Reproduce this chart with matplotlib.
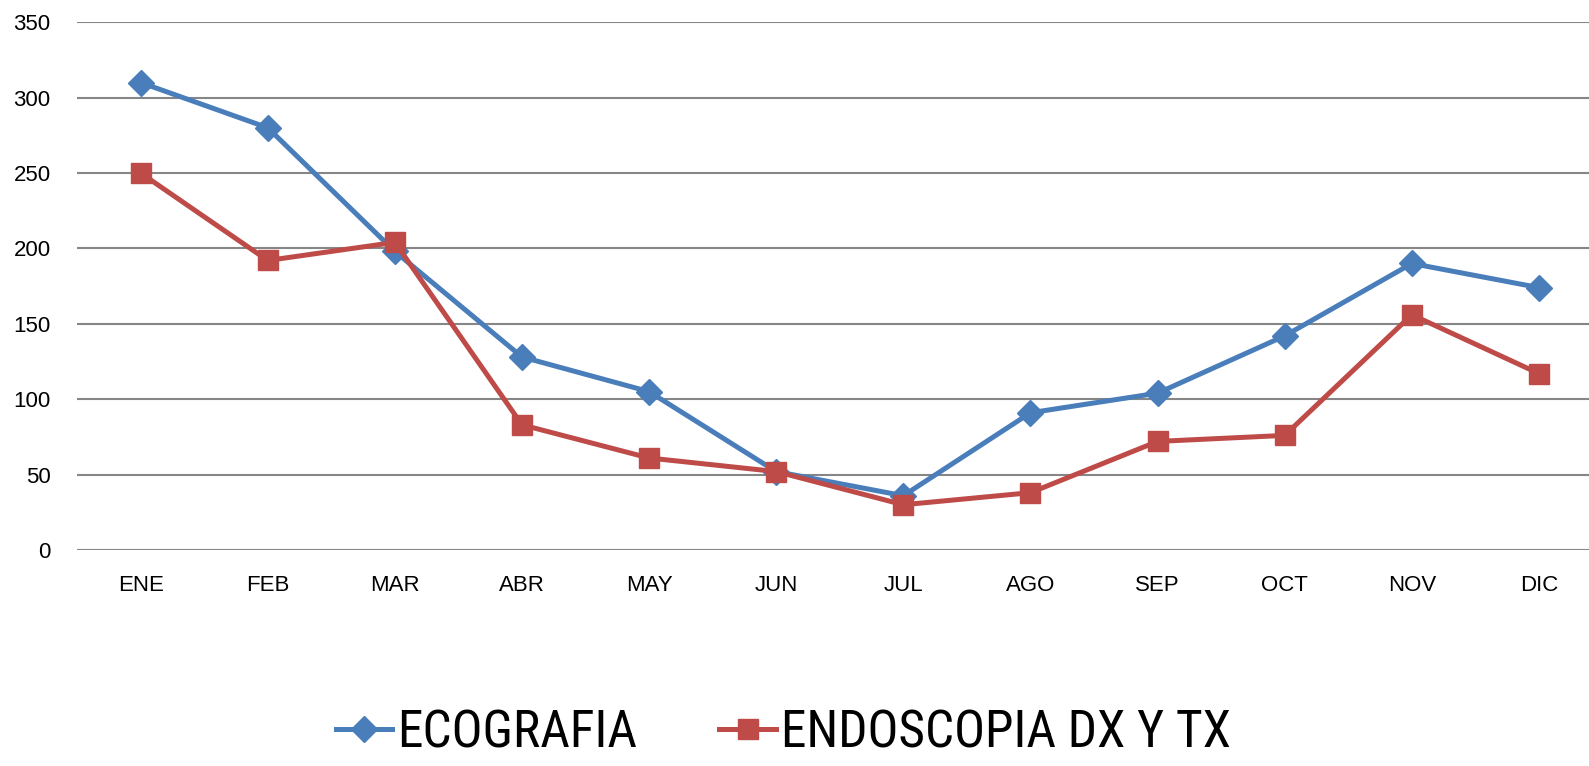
import matplotlib
matplotlib.use("Agg")
import matplotlib.pyplot as plt
from matplotlib.lines import Line2D
from matplotlib import font_manager

months = ["ENE", "FEB", "MAR", "ABR", "MAY", "JUN", "JUL", "AGO", "SEP", "OCT", "NOV", "DIC"]
ecografia = [310, 280, 198, 128, 105, 52, 36, 91, 104, 142, 190, 174]
endoscopia = [250, 192, 204, 83, 61, 52, 30, 38, 72, 76, 156, 117]

blue = "#4a7ebb"
red = "#be4b48"
grid_col = "#868686"

plt.rcParams['font.family'] = ['Liberation Sans', 'DejaVu Sans']

# narrow-ish face for the big legend
names = {f.name for f in font_manager.fontManager.ttflist}
legend_font = [n for n in ['Roboto Condensed', 'Liberation Sans Narrow', 'Roboto'] if n in names] + ['DejaVu Sans']

fig = plt.figure(figsize=(15.89, 7.66), dpi=100)
ax = fig.add_axes([0.0485, 0.282, 0.960, 0.689])

x = list(range(len(months)))
ax.plot(x, ecografia, color=blue, lw=3.6, marker="D", ms=13, zorder=3)
ax.plot(x, endoscopia, color=red, lw=3.6, marker="s", ms=14, zorder=4)

ax.set_xlim(-0.5, 11.5)
ax.set_ylim(0, 350)
ax.set_yticks(range(0, 351, 50))
ax.set_xticks(x)
ax.set_xticklabels(months)
ax.yaxis.grid(True, color=grid_col, lw=1.5)
ax.set_axisbelow(True)
for s in ax.spines.values():
    s.set_visible(False)
ax.tick_params(axis="both", length=0, labelsize=16)
ax.tick_params(axis="x", pad=18)
ax.tick_params(axis="y", pad=19)

handles = [Line2D([], [], color=blue, lw=3.6, marker="D", ms=13),
           Line2D([], [], color=red, lw=3.6, marker="s", ms=14)]
fig.legend(handles, ["ECOGRAFIA", "ENDOSCOPIA DX Y TX"], loc="lower center",
           bbox_to_anchor=(0.493, -0.05), ncol=2, frameon=False,
           prop={'family': legend_font, 'size': 37},
           handlelength=1.1, handletextpad=0.1, columnspacing=1.6)

fig.savefig("out.png", dpi=100)
